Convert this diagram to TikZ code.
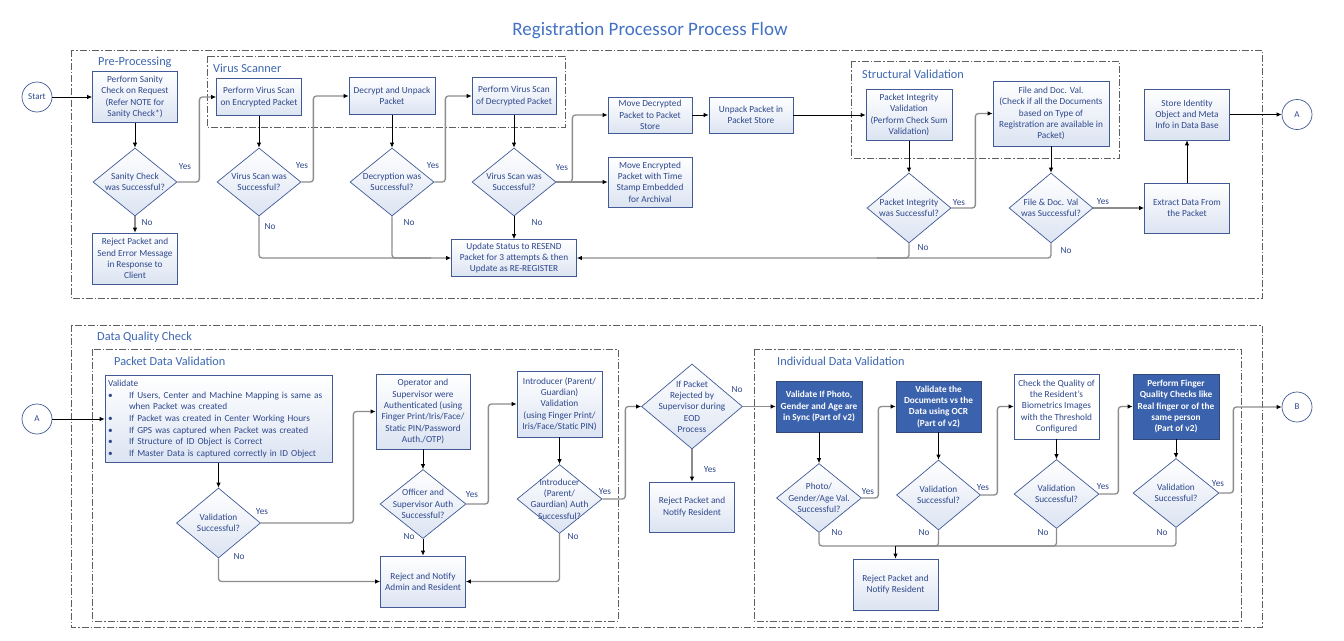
\documentclass[tikz,border=0pt]{standalone}
\usepackage{fontspec}
\setmainfont{Carlito}
\usetikzlibrary{arrows.meta,shapes.geometric}
\definecolor{bordc}{RGB}{65,90,150}
\definecolor{txtc}{RGB}{47,72,140}
\definecolor{fillc}{RGB}{220,228,242}
\definecolor{darkc}{RGB}{59,98,172}
\definecolor{titlec}{RGB}{68,114,196}
\definecolor{grpc}{RGB}{95,95,95}
\definecolor{linec}{RGB}{140,140,140}
\newcommand\fs{\fontsize{9.3}{11.3}\selectfont}
\newcommand\mkdia[6]{\node[dshape, minimum width=#4pt, minimum height=#5pt] (#1) at (#2,#3) {};
  \node[dtxt] (#1t) at (#1) {#6};}
\tikzset{
 box/.style={draw=bordc, line width=0.7pt, top color=white, bottom color=fillc, text=txtc, align=center, inner sep=1pt, font=\fs},
 wbox/.style={draw=bordc, line width=0.7pt, fill=white, text=txtc, align=center, inner sep=1pt, font=\fs},
 dbox/.style={draw=bordc!80!black, line width=0.7pt, fill=darkc, text=white, align=center, inner sep=1pt, font=\fs\bfseries},
 dshape/.style={diamond, draw=bordc, line width=0.7pt, top color=white, bottom color=fillc, inner sep=0pt},
 dtxt/.style={text=txtc, align=center, font=\fs, inner sep=0pt},
 circ/.style={circle, draw=bordc, line width=0.7pt, fill=white, minimum size=30pt, inner sep=0pt, text=txtc, font=\fontsize{9}{10}\selectfont},
 grp/.style={draw=grpc, line width=0.6pt, dash pattern=on 7pt off 2pt on 1.5pt off 2pt},
 glabel/.style={text=titlec!90!black, font=\fontsize{12.3}{14}\selectfont, inner sep=0pt, anchor=west},
 yn/.style={text=txtc, font=\fs, inner sep=0pt},
 arr/.style={black, line width=0.8pt, -{Latex[length=5pt,width=4.5pt]}},
 garr/.style={linec, line width=1.3pt, rounded corners=3pt, -{Latex[length=5pt,width=4.5pt,color=black]}},
 gline/.style={linec, line width=1.3pt, rounded corners=3pt},
}
\begin{document}
\begin{tikzpicture}[x=1pt,y=-1pt]
\useasboundingbox (0,0) rectangle (1344,640);
\fill[white] (0,0) rectangle (1344,640);
\node[text=titlec, font=\fontsize{19}{22}\selectfont] (title) at (650,31) {Registration Processor Process Flow};
% groups
\draw[grp] (71,50) rectangle (1262,298);
\draw[grp] (207,56) rectangle (565,127);
\draw[grp] (851,61) rectangle (1119,158);
\draw[grp] (71,325) rectangle (1262,627);
\draw[grp] (92,349) rectangle (618,621);
\draw[grp] (754,349) rectangle (1241,621);
\node[glabel] (lpre) at (98,62) {Pre-Processing};
\node[glabel] (lvir) at (213,68) {Virus Scanner};
\node[glabel] (lstr) at (862,74) {Structural Validation};
\node[glabel] (ldqc) at (97,337) {Data Quality Check};
\node[glabel] (lpdv) at (114,361) {Packet Data Validation};
\node[glabel] (lidv) at (777,361) {Individual Data Validation};
% top row nodes
\node[circ] (start) at (37,97) {Start};
\node[box, minimum width=85pt, minimum height=51pt] (sanity) at (135,97) {Perform Sanity\\Check on Request\\(Refer NOTE for\\Sanity Check*)};
\mkdia{dSan}{135}{182}{84}{68}{Sanity Check\\was Successful?}
\node[box, minimum width=85pt, minimum height=51pt] (rejSan) at (135,258.5) {Reject Packet and\\Send Error Message\\in Response to\\Client};
\node[box, minimum width=85pt, minimum height=37pt] (vs1) at (259,97) {Perform Virus Scan\\on Encrypted Packet};
\mkdia{dVs1}{259}{182}{84}{68}{Virus Scan was\\Successful?}
\node[box, minimum width=86pt, minimum height=37pt] (decrypt) at (392,96) {Decrypt and Unpack\\Packet};
\mkdia{dDec}{392}{182}{84}{68}{Decryption was\\Successful?}
\node[box, minimum width=84pt, minimum height=37pt] (vs2) at (514,96) {Perform Virus Scan\\of Decrypted Packet};
\mkdia{dVs2}{514}{182}{84}{68}{Virus Scan was\\Successful?}
\node[box, minimum width=84pt, minimum height=36pt] (moveDec) at (650,115) {Move Decrypted\\Packet to Packet\\Store};
\node[box, minimum width=84pt, minimum height=50pt] (moveEnc) at (650,182) {Move Encrypted\\Packet with Time\\Stamp Embedded\\for Archival};
\node[box, minimum width=84pt, minimum height=36pt] (unpack) at (751,115) {Unpack Packet in\\Packet Store};
\node[box, minimum width=86pt, minimum height=51pt] (pi) at (909,115) {Packet Integrity\\Validation\\(Perform Check Sum\\Validation)};
\mkdia{dPI}{909}{208}{84}{70}{Packet Integrity\\was Successful?}
\node[box, minimum width=116pt, minimum height=65pt] (file) at (1051,113.5) {File and Doc. Val.\\(Check if all the Documents\\based on Type of\\Registration are available in\\Packet)};
\mkdia{dFile}{1051}{208}{84}{70}{File \& Doc. Val\\was Successful?}
\node[box, minimum width=85pt, minimum height=50pt] (extract) at (1187,208) {Extract Data From\\the Packet};
\node[box, minimum width=85pt, minimum height=51pt] (store) at (1187,114.5) {Store Identity\\Object and Meta\\Info in Data Base};
\node[circ] (A) at (1297,114.5) {A};
\node[box, minimum width=125pt, minimum height=37pt] (update) at (514,258) {Update Status to RESEND\\Packet for 3 attempts \& then\\Update as RE-REGISTER};
% bottom row nodes
\node[circ] (A2) at (37,419) {A};
\node[box, align=left, text width=221pt, minimum height=87pt, inner sep=3pt, font=\fontsize{9.3}{11.7}\selectfont] (val) at (218.5,419) {Validate\\
\makebox[21pt][l]{\textbullet}If Users, Center and Machine Mapping is same as\\
\hspace*{21pt}when Packet was created\\
\makebox[21pt][l]{\textbullet}If Packet was created in Center Working Hours\\
\makebox[21pt][l]{\textbullet}If GPS was captured when Packet was created\\
\makebox[21pt][l]{\textbullet}If Structure of ID Object is Correct\\
\makebox[21pt][l]{\textbullet}If Master Data is captured correctly in ID Object};
\mkdia{dVal}{218.5}{523}{84}{70}{Validation\\Successful?}
\node[box, minimum width=94pt, minimum height=75pt] (oper) at (423,411.5) {Operator and\\Supervisor were\\Authenticated (using\\Finger Print/Iris/Face/\\Static PIN/Password\\Auth./OTP)};
\mkdia{dOff}{423}{504}{86}{69}{Officer and\\Supervisor Auth\\Successful?}
\node[box, minimum width=85pt, minimum height=51pt] (rejAdm) at (423,581.5) {Reject and Notify\\Admin and Resident};
\node[box, minimum width=85pt, minimum height=66pt] (intro) at (559.5,404) {Introducer (Parent/\\Guardian)\\Validation\\(using Finger Print/\\Iris/Face/Static PIN)};
\mkdia{dIntro}{559.5}{499}{85}{69}{Introducer\\(Parent/\\Gaurdian) Auth\\Successful?}
\mkdia{dEOD}{692}{406.5}{101}{85}{If Packet\\Rejected by\\Supervisor during\\EOD\\Process}
\node[box, minimum width=85pt, minimum height=50pt] (rejEOD) at (692,507) {Reject Packet and\\Notify Resident};
\node[dbox, minimum width=86pt, minimum height=51pt] (photo) at (819,406.5) {Validate If Photo,\\Gender and Age are\\in Sync (Part of v2)};
\mkdia{dPhoto}{819}{498}{85}{69}{Photo/\\Gender/Age Val.\\Successful?}
\node[dbox, minimum width=85pt, minimum height=51pt] (ocr) at (938.5,406.5) {Validate the\\Documents vs the\\Data using OCR\\(Part of v2)};
\mkdia{dOcr}{938.5}{495}{84}{70}{Validation\\Successful?}
\node[wbox, minimum width=85pt, minimum height=65pt] (check) at (1056.5,406.5) {Check the Quality of\\the Resident's\\Biometrics Images\\with the Threshold\\Configured};
\mkdia{dCheck}{1056.5}{494}{85}{69}{Validation\\Successful?}
\node[dbox, minimum width=86pt, minimum height=65pt] (finger) at (1176,406.5) {Perform Finger\\Quality Checks like\\Real finger or of the\\same person\\(Part of v2)};
\mkdia{dFinger}{1176}{493}{86}{69}{Validation\\Successful?}
\node[box, minimum width=85pt, minimum height=51pt] (rejRes) at (895.5,584.5) {Reject Packet and\\Notify Resident};
\node[circ] (B) at (1297,407) {B};
\coordinate (m) at (895.5,546);
% top connectors
\draw[arr] (start) -- (sanity);
\draw[arr] (sanity) -- (dSan);
\draw[garr] (dSan.south) -- (rejSan.north);
\draw[garr] (dSan.east) -- ++(22,0) |- (vs1.west);
\draw[arr] (vs1) -- (dVs1);
\draw[garr] (dVs1.east) -- ++(12,0) |- (decrypt.west);
\draw[arr] (decrypt) -- (dDec);
\draw[garr] (dDec.east) -- ++(11,0) |- (vs2.west);
\draw[arr] (vs2) -- (dVs2);
\draw[garr] (dVs2.east) -- ++(16,0) |- (moveDec.west);
\draw[garr] (dVs2.east) -- (moveEnc.west);
\draw[arr] (moveDec) -- (unpack);
\draw[arr] (unpack) -- (pi);
\draw[arr] (pi) -- (dPI);
\draw[garr] (dPI.east) -- ++(24,0) |- (file.west);
\draw[arr] (file) -- (dFile);
\draw[garr] (dFile) -- (extract);
\draw[arr] (extract) -- (store);
\draw[arr] (store) -- (A);
\draw[garr] (dVs1.south) |- (update.west);
\draw[gline] (dDec.south) |- ([xshift=-20pt]update.west);
\draw[arr] (dVs2.south) -- (update.north);
\draw[garr] (dPI.south) |- (update.east);
\draw[gline] (dFile.south) |- ([xshift=300pt]update.east);
% bottom connectors
\draw[arr] (A2) -- (val);
\draw[arr] (val) -- (dVal);
\draw[garr] (dVal.east) -- ++(92.5,0) |- (oper.west);
\draw[garr] (dVal.south) |- (rejAdm.west);
\draw[arr] (oper) -- (dOff);
\draw[arr] (dOff) -- (rejAdm);
\draw[garr] (dOff.east) -- ++(22,0) |- (intro.west);
\draw[arr] (intro) -- (dIntro);
\draw[garr] (dIntro.south) |- (rejAdm.east);
\draw[garr] (dIntro.east) -- ++(23,0) |- (dEOD.west);
\draw[garr] (dEOD.south) -- (rejEOD.north);
\draw[garr] (dEOD.east) -- (photo.west);
\draw[arr] (photo) -- (dPhoto);
\draw[garr] (dPhoto.east) -- ++(16.5,0) |- (ocr.west);
\draw[arr] (ocr) -- (dOcr);
\draw[garr] (dOcr.east) -- ++(16.5,0) |- (check.west);
\draw[arr] (check) -- (dCheck);
\draw[garr] (dCheck.east) -- ++(19,0) |- (finger.west);
\draw[arr] (finger) -- (dFinger);
\draw[garr] (dFinger.east) -- ++(14,0) |- (B.west);
\draw[gline] (dPhoto.south) |- (m);
\draw[gline] (dOcr.south) |- (m);
\draw[gline] (dCheck.south) |- (m);
\draw[gline] (dFinger.south) |- (m);
\draw[arr] (m) -- (rejRes.north);
% yes / no labels
\node[yn] (y1) at (185,167) {Yes};
\node[yn] (n1) at (147,223) {No};
\node[yn] (y2) at (302,166) {Yes};
\node[yn] (n2) at (270,227) {No};
\node[yn] (y3) at (433,166) {Yes};
\node[yn] (n3) at (409,223) {No};
\node[yn] (y4) at (562,168) {Yes};
\node[yn] (n4) at (537,223) {No};
\node[yn] (y5) at (959,203) {Yes};
\node[yn] (n5) at (923,248) {No};
\node[yn] (y6) at (1103,202) {Yes};
\node[yn] (n6) at (1066,251) {No};
\node[yn] (y7) at (262,512) {Yes};
\node[yn] (n7) at (239,557) {No};
\node[yn] (y8) at (472,495) {Yes};
\node[yn] (n8) at (409,537) {No};
\node[yn] (y9) at (605,492) {Yes};
\node[yn] (n9) at (573,537) {No};
\node[yn] (n10) at (737,390) {No};
\node[yn] (y10) at (710,470) {Yes};
\node[yn] (y11) at (868,492) {Yes};
\node[yn] (n11) at (837,533) {No};
\node[yn] (y12) at (983,488) {Yes};
\node[yn] (n12) at (924,533) {No};
\node[yn] (y13) at (1103,487) {Yes};
\node[yn] (n13) at (1043,533) {No};
\node[yn] (y14) at (1218,484) {Yes};
\node[yn] (n14) at (1162,533) {No};
\end{tikzpicture}
\end{document}
